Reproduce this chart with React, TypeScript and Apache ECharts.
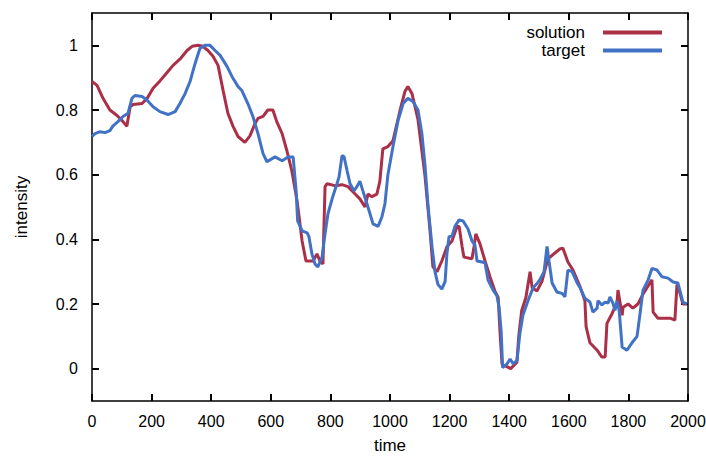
import React, { useEffect, useRef } from "react";
import * as echarts from "echarts";

const xTicks = [0, 200, 400, 600, 800, 1000, 1200, 1400, 1600, 1800, 2000];
const yTicks = [0, 0.2, 0.4, 0.6, 0.8, 1];

const solutionTime = [
  0, 17, 37, 60, 84, 104, 117, 128, 138, 168, 185, 205, 228, 252, 272, 295, 319, 336, 356, 372,
  389, 406, 423, 440, 456, 473, 490, 513, 530, 547, 557, 574, 590, 607, 620, 638, 654, 671, 688, 705,
  718, 742, 755, 765, 775, 782, 789, 815, 839, 859, 883, 899, 916, 926, 939, 956, 966, 976, 993, 1010,
  1034, 1050, 1060, 1074, 1094, 1117, 1134, 1144, 1158, 1174, 1191, 1208, 1225, 1232, 1242, 1248, 1275, 1282, 1288, 1302,
  1319, 1336, 1352, 1363, 1369, 1376, 1405, 1426, 1432, 1442, 1456, 1470, 1477, 1493, 1510, 1530, 1570, 1580, 1597, 1614,
  1638, 1654, 1658, 1671, 1695, 1711, 1722, 1728, 1745, 1762, 1765, 1779, 1782, 1799, 1815, 1832, 1849, 1879, 1883, 1899,
  1940, 1956, 1963, 1973, 1983, 1997,
];
const solutionValue = [
  0.888, 0.876, 0.836, 0.8, 0.783, 0.764, 0.75, 0.81, 0.817, 0.82, 0.836, 0.867, 0.89, 0.916, 0.938, 0.957, 0.984, 0.997, 1.0, 0.997,
  0.984, 0.966, 0.938, 0.86, 0.79, 0.75, 0.718, 0.7, 0.72, 0.758, 0.774, 0.78, 0.8, 0.8, 0.764, 0.727, 0.674, 0.61, 0.52, 0.395,
  0.333, 0.333, 0.355, 0.333, 0.324, 0.563, 0.572, 0.566, 0.569, 0.563, 0.54, 0.525, 0.5, 0.54, 0.532, 0.54, 0.58, 0.68, 0.687, 0.705,
  0.8, 0.857, 0.873, 0.85, 0.77, 0.6, 0.43, 0.315, 0.3, 0.333, 0.377, 0.395, 0.44, 0.44, 0.377, 0.345, 0.34, 0.377, 0.417, 0.386,
  0.333, 0.283, 0.24, 0.22, 0.116, 0.014, 0.0, 0.02, 0.1, 0.18, 0.22, 0.3, 0.25, 0.24, 0.27, 0.34, 0.37, 0.373, 0.33, 0.305,
  0.253, 0.21, 0.13, 0.08, 0.057, 0.036, 0.036, 0.14, 0.17, 0.205, 0.243, 0.165, 0.19, 0.2, 0.187, 0.2, 0.23, 0.275, 0.175, 0.156,
  0.156, 0.15, 0.26, 0.234, 0.2, 0.2,
];

const targetTime = [
  0, 10, 27, 44, 60, 70, 87, 104, 121, 134, 144, 168, 185, 205, 228, 255, 279, 295, 312, 329,
  346, 362, 379, 396, 413, 430, 453, 473, 490, 503, 523, 540, 557, 574, 587, 614, 638, 658, 675, 685,
  690, 705, 722, 728, 738, 748, 758, 772, 782, 792, 809, 822, 829, 839, 846, 856, 866, 879, 889, 899,
  909, 926, 943, 960, 973, 983, 993, 1010, 1027, 1044, 1060, 1077, 1094, 1107, 1117, 1128, 1141, 1151, 1161, 1174,
  1185, 1191, 1198, 1208, 1218, 1232, 1245, 1262, 1275, 1285, 1292, 1309, 1319, 1329, 1346, 1359, 1366, 1373, 1378, 1393,
  1403, 1413, 1426, 1436, 1446, 1463, 1480, 1495, 1503, 1517, 1527, 1534, 1544, 1560, 1577, 1587, 1597, 1611, 1628, 1638,
  1654, 1671, 1681, 1695, 1698, 1711, 1722, 1732, 1738, 1748, 1755, 1762, 1769, 1779, 1795, 1812, 1829, 1839, 1849, 1866,
  1879, 1896, 1913, 1933, 1950, 1966, 1983, 1997,
];
const targetValue = [
  0.718, 0.727, 0.733, 0.73, 0.736, 0.75, 0.764, 0.78, 0.79, 0.836, 0.845, 0.842, 0.83, 0.81, 0.795, 0.786, 0.795, 0.82, 0.85, 0.888,
  0.944, 0.99, 1.0, 1.0, 0.984, 0.969, 0.935, 0.898, 0.873, 0.86, 0.82, 0.78, 0.727, 0.665, 0.64, 0.655, 0.643, 0.655, 0.655, 0.55,
  0.457, 0.426, 0.42, 0.408, 0.355, 0.324, 0.315, 0.345, 0.417, 0.48, 0.535, 0.572, 0.593, 0.659, 0.655, 0.612, 0.572, 0.55, 0.563, 0.58,
  0.55, 0.5, 0.448, 0.44, 0.47, 0.51, 0.6, 0.687, 0.767, 0.82, 0.836, 0.826, 0.8, 0.727, 0.634, 0.5, 0.377, 0.3, 0.26, 0.246,
  0.27, 0.355, 0.408, 0.41, 0.44, 0.46, 0.457, 0.432, 0.395, 0.383, 0.333, 0.33, 0.327, 0.274, 0.243, 0.225, 0.19, 0.116, 0.003, 0.015,
  0.03, 0.015, 0.025, 0.11, 0.165, 0.21, 0.25, 0.265, 0.275, 0.3, 0.378, 0.33, 0.265, 0.237, 0.233, 0.222, 0.305, 0.3, 0.265, 0.25,
  0.218, 0.206, 0.175, 0.187, 0.21, 0.197, 0.206, 0.203, 0.222, 0.203, 0.18, 0.21, 0.18, 0.067, 0.057, 0.08, 0.1, 0.17, 0.243, 0.274,
  0.31, 0.305, 0.284, 0.28, 0.268, 0.265, 0.206, 0.2,
];

const FONT = "'Liberation Sans', Arial, Helvetica, sans-serif";
const RED = "#ab2f47";
const BLUE = "#4172c6";
const FS = 17;
const TICK_FS = 16;

function axisLine() {
  return { show: true, onZero: false, lineStyle: { color: "#000", width: 1.5 } };
}
function tick(customValues: number[]) {
  return { show: true, inside: true, length: 7, customValues, lineStyle: { color: "#000000", width: 2, opacity: 1 } };
}

export default function App() {
  const ref = useRef<HTMLDivElement>(null);
  useEffect(() => {
    if (!ref.current) return;
    const chart = echarts.init(ref.current, undefined, { renderer: "svg" });
    const solution = solutionTime.map((t, i) => [t, solutionValue[i]]);
    const target = targetTime.map((t, i) => [t, targetValue[i]]);
    chart.setOption({
      animation: false,
      backgroundColor: "#fff",
      textStyle: { fontFamily: FONT },
      grid: { left: 92, right: 18, top: 13, bottom: 55, containLabel: false, outerBoundsMode: "none" },
      legend: {
        orient: "vertical",
        align: "right",
        right: 39,
        top: 19,
        itemWidth: 59,
        itemHeight: 4,
        itemGap: 1,
        icon: "rect",
        textStyle: { fontSize: FS, color: "#000", fontFamily: FONT, padding: [0, 13, 0, 0] },
        data: ["solution", "target"],
      },
      xAxis: [
        {
          type: "value",
          min: 0,
          max: 2000,
          interval: 200,
          position: "bottom",
          name: "time",
          nameLocation: "middle",
          nameGap: 36,
          nameTextStyle: { fontSize: FS, color: "#000", fontFamily: FONT },
          axisLine: axisLine(),
          axisTick: tick(xTicks),
          axisLabel: {
            fontSize: TICK_FS,
            color: "#000",
            margin: 12,
            fontFamily: FONT,
            customValues: xTicks,
            formatter: (v: number) => String(v),
          },
          splitLine: { show: false },
        },
        {
          type: "value",
          min: 0,
          max: 2000,
          interval: 200,
          position: "top",
          axisLine: axisLine(),
          axisTick: tick(xTicks),
          axisLabel: { show: false },
          splitLine: { show: false },
        },
      ],
      yAxis: [
        {
          type: "value",
          min: -0.1,
          max: 1.1,
          position: "left",
          name: "intensity",
          nameLocation: "middle",
          nameGap: 62,
          nameTextStyle: { fontSize: FS, color: "#000", fontFamily: FONT },
          axisLine: axisLine(),
          axisTick: tick(yTicks),
          axisLabel: {
            fontSize: TICK_FS,
            color: "#000",
            margin: 14,
            fontFamily: FONT,
            customValues: yTicks,
            formatter: (v: number) => String(v),
          },
          splitLine: { show: false },
        },
        {
          type: "value",
          min: -0.1,
          max: 1.1,
          position: "right",
          axisLine: axisLine(),
          axisTick: tick(yTicks),
          axisLabel: { show: false },
          splitLine: { show: false },
        },
      ],
      series: [
        {
          name: "solution",
          type: "line",
          data: solution,
          showSymbol: false,
          symbol: "none",
          color: RED,
          lineStyle: { color: RED, width: 3 },
          z: 2,
        },
        {
          name: "target",
          type: "line",
          data: target,
          showSymbol: false,
          symbol: "none",
          color: BLUE,
          lineStyle: { color: BLUE, width: 3 },
          z: 3,
        },
      ],
    });
    return () => chart.dispose();
  }, []);
  return (
    <div
      ref={ref}
      style={{ position: "fixed", left: 0, top: 0, width: 706, height: 456, background: "#fff" }}
    />
  );
}
